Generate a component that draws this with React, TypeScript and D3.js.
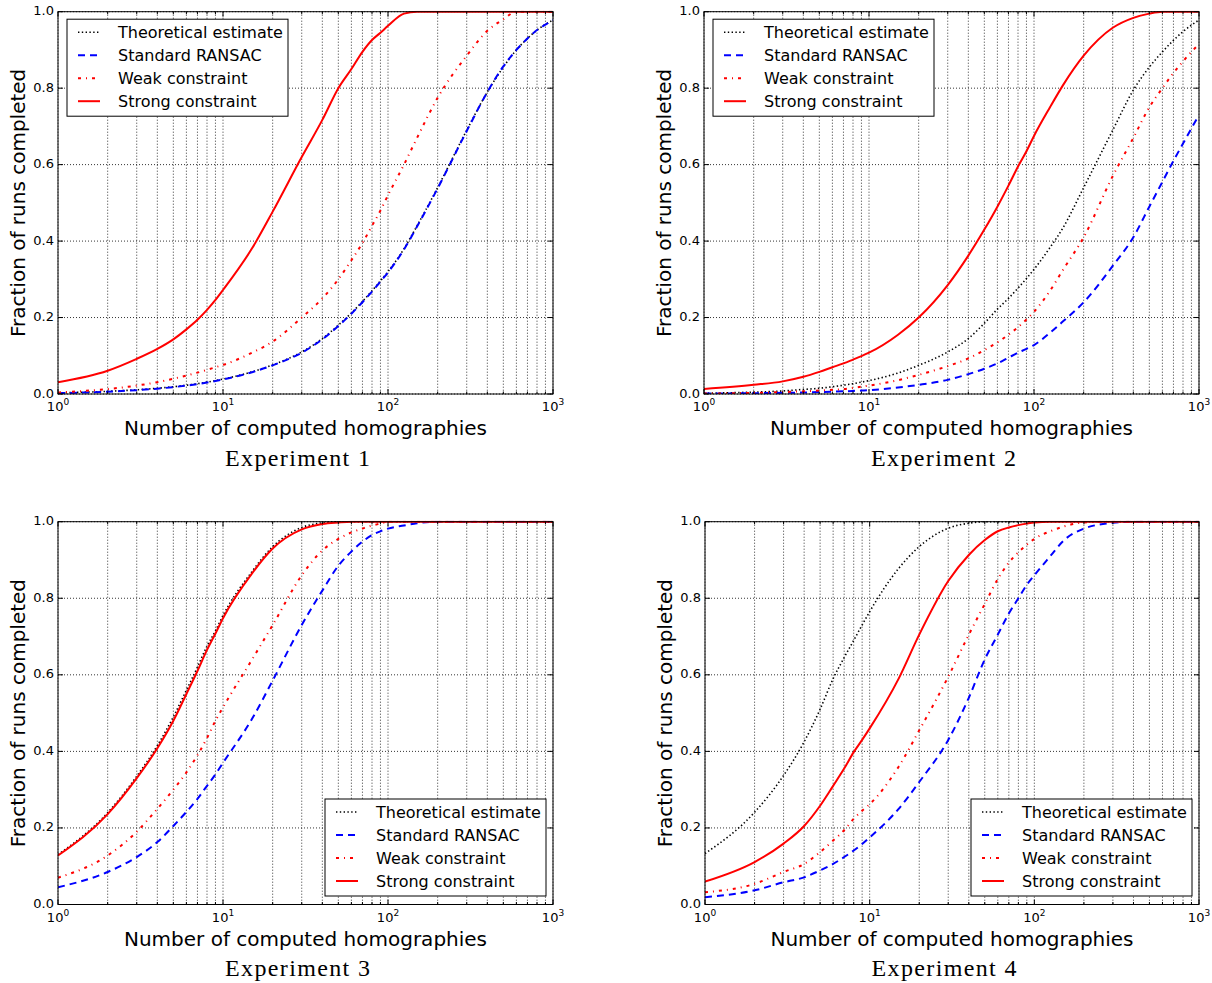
import React from 'react';
import * as d3 from 'd3';

// ---------------- data ----------------
const xs = [1, 2, 3, 4, 5, 6, 7, 8, 9, 10, 15, 20, 30, 40, 50, 60, 70, 80, 90, 100, 125, 150, 200, 300, 400, 500, 600, 700, 800, 900, 1000];

const seriesNames = ['Theoretical estimate', 'Standard RANSAC', 'Weak constraint', 'Strong constraint'];
const titles = ['Experiment 1', 'Experiment 2', 'Experiment 3', 'Experiment 4'];
const yTicks = [0, 0.2, 0.4, 0.6, 0.8, 1.0];
const yTickLabels = ['0.0', '0.2', '0.4', '0.6', '0.8', '1.0'];
const xMajorTicks = [1, 10, 100, 1000];
const xTickExponents = ['0', '1', '2', '3'];
const xLabel = 'Number of computed homographies';
const yLabel = 'Fraction of runs completed';

const exp1Theoretical = [.003, .007, .011, .015, .019, .023, .027, .031, .035, .039, .058, .076, .11, .145, .18, .212, .242, .27, .296, .32, .38, .44, .54, .69, .79, .855, .9, .93, .952, .967, .978];
const exp1Standard = [.002, .006, .01, .014, .018, .022, .026, .03, .034, .038, .057, .075, .108, .143, .178, .21, .24, .268, .294, .318, .378, .438, .538, .688, .79, .857, .9, .93, .952, .966, .978];
const exp1Weak = [.004, .013, .022, .031, .04, .048, .056, .063, .07, .076, .108, .137, .2, .25, .3, .35, .395, .44, .48, .52, .6, .67, .775, .885, .95, .98, 1, 1, 1, 1, 1];
const exp1Strong = [.031, .061, .092, .118, .143, .169, .194, .22, .246, .272, .381, .477, .62, .717, .8, .85, .895, .926, .945, .963, .995, 1, 1, 1, 1, 1, 1, 1, 1, 1, 1];

const exp2Theoretical = [.002, .005, .008, .012, .015, .019, .023, .027, .031, .035, .055, .075, .11, .145, .185, .222, .25, .277, .302, .326, .383, .435, .54, .69, .795, .855, .895, .925, .948, .965, .978];
const exp2Standard = [.001, .002, .003, .004, .005, .006, .007, .008, .009, .01, .017, .024, .037, .052, .066, .08, .095, .108, .118, .128, .16, .19, .24, .335, .41, .49, .555, .61, .655, .695, .73];
const exp2Weak = [.001, .003, .005, .007, .009, .011, .013, .016, .019, .022, .036, .05, .073, .093, .115, .135, .155, .175, .195, .215, .27, .325, .41, .57, .67, .75, .8, .84, .87, .895, .915];
const exp2Strong = [.013, .024, .033, .045, .058, .07, .08, .09, .099, .108, .155, .2, .285, .362, .43, .49, .545, .595, .635, .675, .75, .808, .885, .958, .984, .995, 1, 1, 1, 1, 1];

const exp3Theoretical = [.13, .24, .335, .415, .49, .56, .62, .675, .715, .755, .87, .935, .985, .997, 1, 1, 1, 1, 1, 1, 1, 1, 1, 1, 1, 1, 1, 1, 1, 1, 1];
const exp3Standard = [.045, .085, .124, .163, .205, .242, .276, .31, .34, .37, .485, .585, .73, .82, .885, .922, .948, .965, .975, .982, .99, .996, 1, 1, 1, 1, 1, 1, 1, 1, 1];
const exp3Weak = [.07, .128, .19, .25, .3, .345, .39, .435, .48, .515, .64, .73, .86, .925, .955, .972, .982, .99, .995, 1, 1, 1, 1, 1, 1, 1, 1, 1, 1, 1, 1];
const exp3Strong = [.128, .236, .33, .408, .48, .55, .61, .665, .708, .748, .865, .93, .98, .994, .998, 1, 1, 1, 1, 1, 1, 1, 1, 1, 1, 1, 1, 1, 1, 1, 1];

const exp4Theoretical = [.133, .241, .337, .425, .51, .59, .645, .69, .73, .765, .878, .935, .983, .996, 1, 1, 1, 1, 1, 1, 1, 1, 1, 1, 1, 1, 1, 1, 1, 1, 1];
const exp4Standard = [.019, .037, .058, .071, .089, .106, .124, .141, .158, .175, .25, .32, .43, .54, .64, .705, .76, .8, .835, .86, .91, .95, .982, .997, 1, 1, 1, 1, 1, 1, 1];
const exp4Weak = [.032, .054, .085, .106, .137, .167, .194, .224, .245, .262, .36, .455, .595, .705, .785, .85, .893, .92, .94, .955, .975, .987, .998, 1, 1, 1, 1, 1, 1, 1, 1];
const exp4Strong = [.06, .111, .159, .205, .258, .31, .355, .398, .43, .46, .59, .705, .845, .913, .952, .975, .985, .991, .995, .998, 1, 1, 1, 1, 1, 1, 1, 1, 1, 1, 1];

const experiments = [
  [exp1Theoretical, exp1Standard, exp1Weak, exp1Strong],
  [exp2Theoretical, exp2Standard, exp2Weak, exp2Strong],
  [exp3Theoretical, exp3Standard, exp3Weak, exp3Strong],
  [exp4Theoretical, exp4Standard, exp4Weak, exp4Strong],
];

// ---------------- styles / layout ----------------
const lineStyles = [
  { stroke: '#000000', width: 1.6, dash: '1.4,2.4' },
  { stroke: '#0000ff', width: 2, dash: '7,5' },
  { stroke: '#ff0000', width: 2, dash: '3,5,1,5' },
  { stroke: '#ff0000', width: 2, dash: undefined as string | undefined },
];

const panels = [
  { left: 58, right: 553, top: 11.7, bottom: 394, legend: 'ul' },
  { left: 704, right: 1199, top: 11.7, bottom: 394, legend: 'ul' },
  { left: 58, right: 553, top: 521.7, bottom: 904.5, legend: 'lr' },
  { left: 705, right: 1199, top: 521.7, bottom: 904.5, legend: 'lr' },
];

const SANS = 'DejaVu Sans, sans-serif';
const SERIF = 'Liberation Serif, serif';

function Panel({ idx }: { idx: number }) {
  const p = panels[idx];
  const data = experiments[idx];
  const x = d3.scaleLog().domain([1, 1000]).range([p.left, p.right]);
  const y = d3.scaleLinear().domain([0, 1]).range([p.bottom, p.top]);
  const minor: number[] = [];
  [1, 10, 100].forEach((d) => {
    for (let k = 2; k <= 9; k++) minor.push(d * k);
  });
  const line = d3
    .line<number>()
    .x((_, i) => x(xs[i]))
    .y((v) => y(v))
    .curve(d3.curveMonotoneX);
  const clipId = `clip${idx}`;
  const cx = (p.left + p.right) / 2;
  const cy = (p.top + p.bottom) / 2;

  const lw = 221;
  const lh = 97;
  const lx = p.legend === 'ul' ? p.left + 9 : p.right - 7 - lw;
  const ly = p.legend === 'ul' ? p.top + 7.5 : p.bottom - 8.5 - lh;

  const gridStyle = { stroke: '#000', strokeWidth: 0.8, strokeDasharray: '1,2' };

  return (
    <g>
      <defs>
        <clipPath id={clipId}>
          <rect x={p.left} y={p.top - 1} width={p.right - p.left} height={p.bottom - p.top + 1} />
        </clipPath>
      </defs>
      {/* grid */}
      {[...xMajorTicks, ...minor].map((t) => (
        <line key={'gx' + t} x1={x(t)} x2={x(t)} y1={p.top} y2={p.bottom} {...gridStyle} />
      ))}
      {yTicks.map((t) => (
        <line key={'gy' + t} x1={p.left} x2={p.right} y1={y(t)} y2={y(t)} {...gridStyle} />
      ))}
      {/* series */}
      <g clipPath={`url(#${clipId})`}>
        {data.map((vals, si) => (
          <path
            key={si}
            d={line(vals) || ''}
            fill="none"
            stroke={lineStyles[si].stroke}
            strokeWidth={lineStyles[si].width}
            strokeDasharray={lineStyles[si].dash}
          />
        ))}
      </g>
      {/* frame */}
      <rect x={p.left} y={p.top} width={p.right - p.left} height={p.bottom - p.top} fill="none" stroke="#000" strokeWidth={1} />
      {/* ticks */}
      {xMajorTicks.map((t) => (
        <g key={'tx' + t}>
          <line x1={x(t)} x2={x(t)} y1={p.bottom} y2={p.bottom - 5} stroke="#000" />
          <line x1={x(t)} x2={x(t)} y1={p.top} y2={p.top + 5} stroke="#000" />
        </g>
      ))}
      {minor.map((t) => (
        <g key={'mx' + t}>
          <line x1={x(t)} x2={x(t)} y1={p.bottom} y2={p.bottom - 2.5} stroke="#000" />
          <line x1={x(t)} x2={x(t)} y1={p.top} y2={p.top + 2.5} stroke="#000" />
        </g>
      ))}
      {yTicks.map((t) => (
        <g key={'ty' + t}>
          <line x1={p.left} x2={p.left + 5} y1={y(t)} y2={y(t)} stroke="#000" />
          <line x1={p.right} x2={p.right - 5} y1={y(t)} y2={y(t)} stroke="#000" />
        </g>
      ))}
      {/* tick labels */}
      {yTicks.map((t, i) => (
        <text key={'ly' + t} x={p.left - 4} y={y(t) - 1} textAnchor="end" dominantBaseline="central" fontFamily={SANS} fontSize={13}>
          {yTickLabels[i]}
        </text>
      ))}
      {xMajorTicks.map((t, i) => (
        <text key={'lx' + t} x={x(t)} y={p.bottom + 17} textAnchor="middle" fontFamily={SANS} fontSize={13}>
          10
          <tspan fontSize={9} dy={-6}>
            {xTickExponents[i]}
          </tspan>
        </text>
      ))}
      {/* axis labels */}
      <text x={cx} y={p.bottom + 41} textAnchor="middle" fontFamily={SANS} fontSize={20}>
        {xLabel}
      </text>
      <text transform={`translate(${p.left - 33},${cy}) rotate(-90)`} textAnchor="middle" fontFamily={SANS} fontSize={20}>
        {yLabel}
      </text>
      <text x={cx - 8} y={p.bottom + 71.7} textAnchor="middle" fontFamily={SERIF} fontSize={24} textLength={145} lengthAdjust="spacing">
        {titles[idx]}
      </text>
      {/* legend */}
      <g>
        <rect x={lx} y={ly} width={lw} height={lh} fill="#fff" stroke="#000" strokeWidth={1} />
        {seriesNames.map((name, si) => {
          const ry = ly + 13 + si * 23;
          return (
            <g key={name}>
              <line
                x1={lx + 11}
                x2={lx + 33}
                y1={ry}
                y2={ry}
                stroke={lineStyles[si].stroke}
                strokeWidth={lineStyles[si].width}
                strokeDasharray={lineStyles[si].dash}
              />
              <text x={lx + 51} y={ry} dominantBaseline="central" fontFamily={SANS} fontSize={16}>
                {name}
              </text>
            </g>
          );
        })}
      </g>
    </g>
  );
}

export default function App() {
  return (
    <svg width={1212} height={983} style={{ position: 'absolute', left: 0, top: 0, background: '#fff' }}>
      <rect x={0} y={0} width={1212} height={983} fill="#fff" />
      {panels.map((_, i) => (
        <Panel key={i} idx={i} />
      ))}
    </svg>
  );
}
